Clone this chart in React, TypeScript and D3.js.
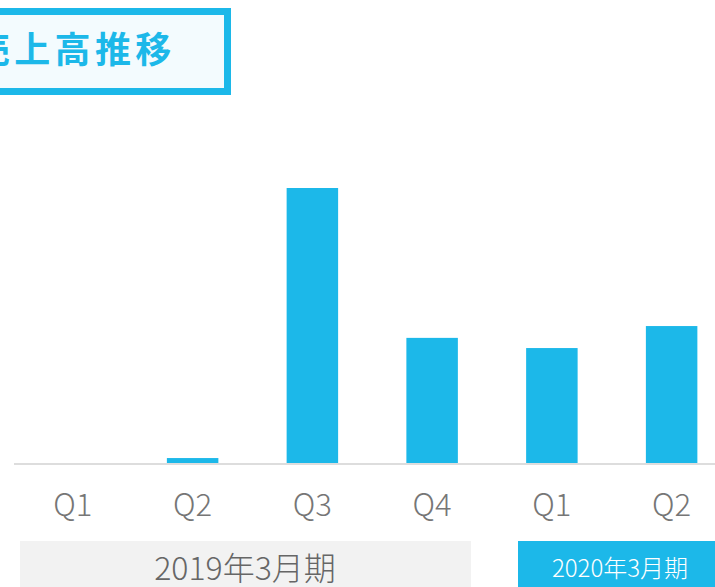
import React, { useEffect, useRef } from 'react';
import * as d3 from 'd3';

// quarterly sales (relative units)
const quarters = ['Q1', 'Q2', 'Q3', 'Q4', 'Q1', 'Q2'];
const sales = [0, 1.8, 100, 45.5, 41.8, 49.8];
const periods = ['2019年3月期', '2020年3月期'];
const title = '売上高推移';

export default function App() {
    const svgRef = useRef<SVGSVGElement>(null);

    useEffect(() => {
        const width = 715;
        const height = 587;
        const baseY = 463;

        const svg = d3.select(svgRef.current)
            .attr('width', width)
            .attr('height', height);
        svg.selectAll('*').remove();

        const font = "'Noto Sans CJK JP', 'Noto Sans', sans-serif";
        const cyan = '#1cb8e9';

        // title box
        svg.append('rect')
            .attr('x', -20).attr('y', 11.5)
            .attr('width', 247.5).attr('height', 80)
            .attr('fill', '#f3fbfe')
            .attr('stroke', cyan)
            .attr('stroke-width', 7);
        svg.append('text')
            .attr('x', -26).attr('y', 63)
            .attr('font-family', font)
            .attr('font-weight', 700)
            .attr('font-size', 36)
            .attr('letter-spacing', 4.3)
            .attr('fill', cyan)
            .text(title);

        // scales
        const x = d3.scaleBand<number>()
            .domain(d3.range(quarters.length))
            .range([13, 731.5])
            .paddingInner(0.57)
            .paddingOuter(0.285);

        const y = d3.scaleLinear()
            .domain([0, 100])
            .range([baseY, 188]);

        // bars
        svg.append('g')
            .selectAll('rect')
            .data(sales)
            .enter().append('rect')
            .attr('x', (d, i) => x(i)!)
            .attr('y', d => y(d))
            .attr('width', x.bandwidth())
            .attr('height', d => baseY - y(d))
            .attr('fill', cyan);

        // baseline
        svg.append('line')
            .attr('x1', 14).attr('x2', width)
            .attr('y1', baseY + 1).attr('y2', baseY + 1)
            .attr('stroke', '#dddddd')
            .attr('stroke-width', 2);

        // quarter labels
        svg.append('g')
            .selectAll('text')
            .data(quarters)
            .enter().append('text')
            .attr('x', (d, i) => x(i)! + x.bandwidth() / 2)
            .attr('y', 516)
            .attr('text-anchor', 'middle')
            .attr('font-family', font)
            .attr('font-weight', 300)
            .attr('font-size', 31)
            .attr('fill', '#767676')
            .text(d => d);

        // fiscal-year bands
        const bands = [
            { x0: 20, x1: 471, fill: '#f2f2f2', color: '#666666', size: 32, cx: 245, ty: 580 },
            { x0: 518, x1: 722, fill: cyan, color: '#ffffff', size: 24, cx: 620, ty: 577 },
        ];
        bands.forEach((b, i) => {
            svg.append('rect')
                .attr('x', b.x0).attr('y', 541)
                .attr('width', b.x1 - b.x0).attr('height', 50)
                .attr('fill', b.fill);
            svg.append('text')
                .attr('x', b.cx)
                .attr('y', b.ty)
                .attr('text-anchor', 'middle')
                .attr('font-family', font)
                .attr('font-weight', 300)
                .attr('font-size', b.size)
                .attr('fill', b.color)
                .text(periods[i]);
        });
    }, []);

    return (
        <svg ref={svgRef} style={{ position: 'absolute', left: 0, top: 0 }}></svg>
    );
}
